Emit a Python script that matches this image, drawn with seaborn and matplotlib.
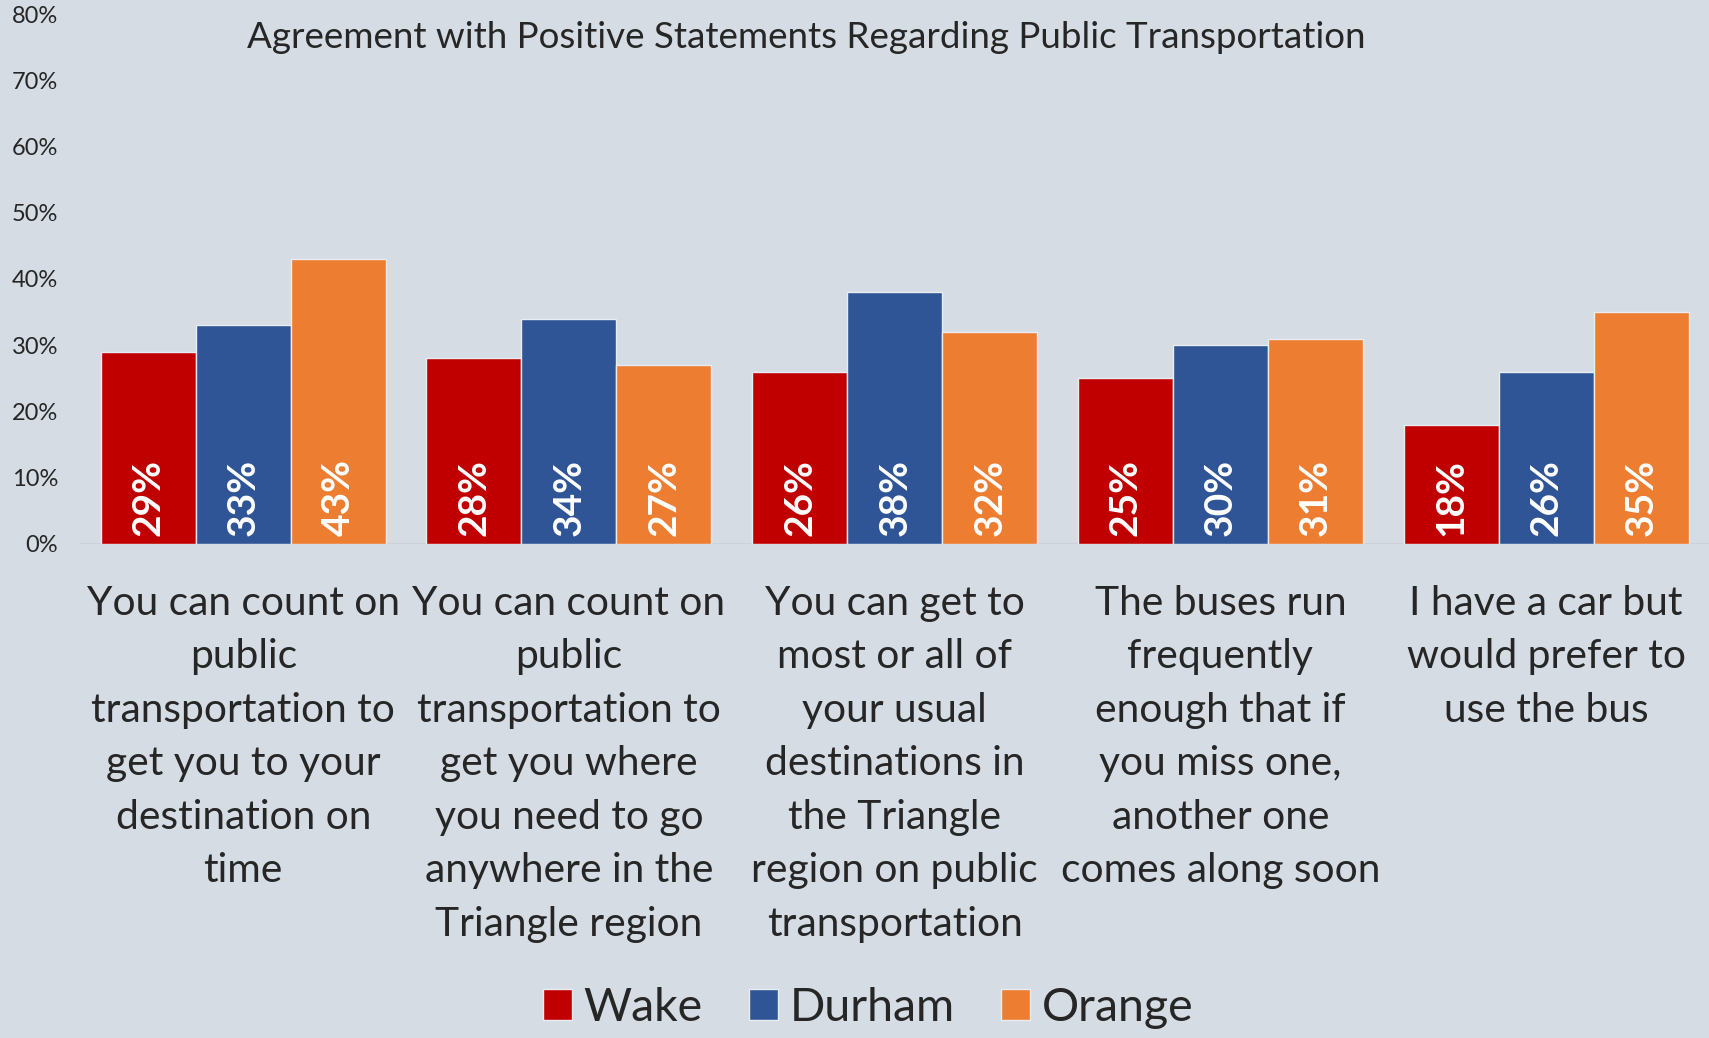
import pandas as pd
import numpy as np
import seaborn as sns
import matplotlib.pyplot as plt
from matplotlib.patches import Patch

statements = [
    "You can count on\npublic\ntransportation to\nget you to your\ndestination on\ntime",
    "You can count on\npublic\ntransportation to\nget you where\nyou need to go\nanywhere in the\nTriangle region",
    "You can get to\nmost or all of\nyour usual\ndestinations in\nthe Triangle\nregion on public\ntransportation",
    "The buses run\nfrequently\nenough that if\nyou miss one,\nanother one\ncomes along soon",
    "I have a car but\nwould prefer to\nuse the bus",
]
counties = ["Wake", "Durham", "Orange"]
wake = [29, 28, 26, 25, 18]
durham = [33, 34, 38, 30, 26]
orange = [43, 27, 32, 31, 35]
colors = ["#C00000", "#2F5597", "#ED7D31"]
bg = "#D6DCE4"

# long form table for seaborn
df = pd.DataFrame({
    'statement': statements * 3,
    'county': np.repeat(counties, len(statements)),
    'pct': wake + durham + orange,
})

sns.set_theme(style="white")
plt.rcParams['font.family'] = ['Lato', 'DejaVu Sans']

fig = plt.figure(figsize=(17.09, 10.38), dpi=100, facecolor=bg)
ax = fig.add_axes([0.047, 0.476, 0.953, 0.5105])
ax.set_facecolor(bg)

sns.barplot(data=df, x='statement', y='pct', hue='county', order=statements,
            hue_order=counties, palette=colors, saturation=1, width=0.875, gap=0,
            edgecolor='#e9edf2', linewidth=1.0, legend=False, ax=ax)

# value labels at the base of each bar
for cont in ax.containers:
    for bar in cont:
        h = bar.get_height()
        ax.annotate(f"{h:.0f}%", (bar.get_x() + bar.get_width() / 2, 0),
                    xytext=(0, 6), textcoords='offset points', rotation=90,
                    ha='center', va='bottom', color='white', fontsize=28,
                    fontweight='bold')

ax.set_ylim(0, 80)
ax.set_xlim(-0.5, len(statements) - 0.5)
ax.set_yticks(range(0, 81, 10))
ax.set_yticklabels([f"{v}%" for v in range(0, 81, 10)], fontsize=17)
ax.tick_params(axis='y', length=0, pad=16)
ax.tick_params(axis='x', length=0, pad=29.5)
ax.set_xticks(range(len(statements)))
ax.set_xticklabels(statements, fontsize=29.3, linespacing=1.55, va='top')
ax.set_xlabel('')
ax.set_ylabel('')
for s in ax.spines.values():
    s.set_visible(False)
ax.axhline(0, color='#cdd2d8', lw=1.5, zorder=0)

ax.text(0.446, 0.955, "Agreement with Positive Statements Regarding Public Transportation",
        transform=ax.transAxes, ha='center', va='center', fontsize=26.5)

handles = [Patch(facecolor=c, edgecolor='#e9edf2', label=n) for c, n in zip(colors, counties)]
fig.legend(handles=handles, loc='center', bbox_to_anchor=(0.508, 0.029), ncol=3,
           frameon=False, fontsize=33.5, handlelength=0.62, handleheight=0.62,
           handletextpad=0.25, columnspacing=1.0)

fig.savefig('out.png', dpi=100, facecolor=bg)
